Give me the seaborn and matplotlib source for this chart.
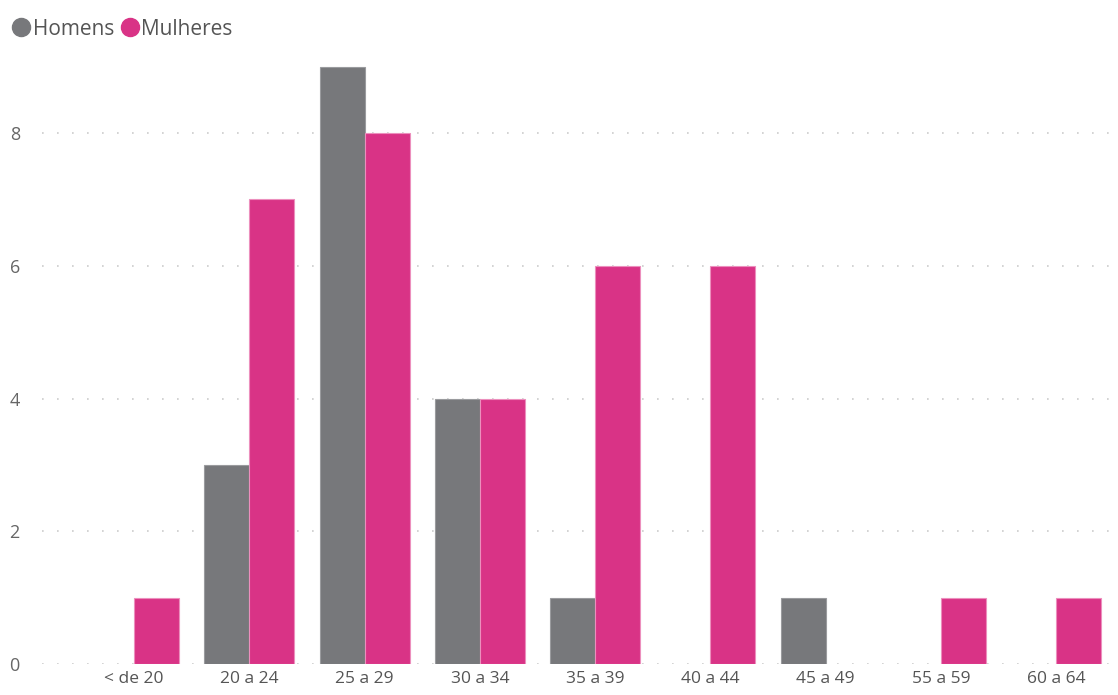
import matplotlib
matplotlib.use("Agg")
import matplotlib.pyplot as plt
from matplotlib.lines import Line2D
import seaborn as sns
import pandas as pd

categories = ["< de 20", "20 a 24", "25 a 29", "30 a 34", "35 a 39",
              "40 a 44", "45 a 49", "55 a 59", "60 a 64"]
homens = [0, 3, 9, 4, 1, 0, 1, 0, 0]
mulheres = [1, 7, 8, 4, 6, 6, 0, 1, 1]
series = ["Homens", "Mulheres"]
colors = {"Homens": "#77787B", "Mulheres": "#D93386"}
edges = {"Homens": "#9a9b9e", "Mulheres": "#ec8fbd"}
yticks = [0, 2, 4, 6, 8]

df = pd.DataFrame({
    "faixa": categories * 2,
    "valor": homens + mulheres,
    "sexo": ["Homens"] * len(categories) + ["Mulheres"] * len(categories),
})

sns.set_theme(style="white")
plt.rcParams["font.family"] = ["Open Sans", "DejaVu Sans"]

fig = plt.figure(figsize=(11.18, 6.95), dpi=100)
ax = fig.add_axes([42 / 1118, 31 / 695, (1116 - 42) / 1118, (664 - 60) / 695])

sns.barplot(data=df, x="faixa", y="valor", hue="sexo", order=categories,
            hue_order=series, palette=colors, width=0.78, ax=ax,
            legend=False, saturation=1)

for cont, s in zip(ax.containers, series):
    for p in cont:
        if p.get_height() > 0:
            p.set_edgecolor(edges[s])
            p.set_linewidth(0.8)
        else:
            p.set_visible(False)

ax.set_xlim(-0.8, 8.52)
ax.set_ylim(0, 9.1)
ax.set_yticks(yticks)
ax.yaxis.grid(True, color="#cccccc", linestyle=(0, (1, 8)), linewidth=1.2)
ax.set_axisbelow(True)
for sp in ax.spines.values():
    sp.set_visible(False)
ax.set_xlabel("")
ax.set_ylabel("")
ax.tick_params(axis="y", length=0, pad=16, labelsize=13, labelcolor="#666666")
ax.tick_params(axis="x", length=0, pad=5, labelsize=12.5, labelcolor="#555555")
for t in ax.get_yticklabels():
    t.set_horizontalalignment("right")

handles = [Line2D([0], [0], marker="o", linestyle="", markersize=13,
                  markerfacecolor=colors[s], markeredgecolor=colors[s]) for s in series]
fig.legend(handles, series, loc="upper left", bbox_to_anchor=(-0.009, 1.0),
           frameon=False, ncol=2, handletextpad=-0.05, columnspacing=0.15,
           fontsize=15, labelcolor="#555555", handlelength=1.2)

fig.savefig("out.png", dpi=100)
